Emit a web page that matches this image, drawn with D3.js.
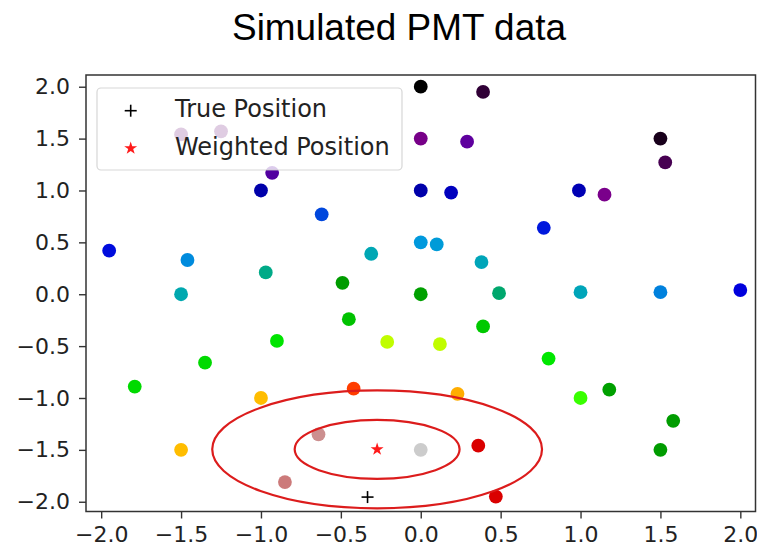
<!DOCTYPE html>
<html>
<head>
<meta charset="utf-8">
<script src="https://cdn.jsdelivr.net/npm/d3@7"></script>
<style>
  body { margin: 0; background: #fff; }
  text { font-family: "DejaVu Sans", sans-serif; }
</style>
</head>
<body>
<svg id="chart" width="757" height="549"></svg>
<script>
// PMT centres (x, y) and the normalised signal each one recorded
const pmtX = [0.00, 0.39, 0.00, 0.29, 1.50, 1.53, 0.00, 0.19, 0.99, 1.15,
              0.77, 0.00, 0.10, 0.38, 0.00, 0.49, 1.00, 1.50, 2.00, -1.95,
              -1.46, -1.50, -0.97, -0.49, -0.31, -0.62, -1.00, -0.93, -1.50, -1.25,
              -0.45, -0.90, -0.21, -1.35, -1.79, -1.00, -0.42, -0.64, -1.50, -0.85,
              0.00, 0.39, 0.12, 0.80, 0.23, 1.00, 1.18, 1.58, 1.50, 0.36, 0.47];
const pmtY = [2.00, 1.95, 1.50, 1.47, 1.50, 1.27, 1.00, 0.98, 1.00, 0.96,
              0.64, 0.50, 0.48, 0.31, 0.00, 0.01, 0.02, 0.02, 0.04, 0.42,
              0.33, 0.00, 0.21, 0.11, 0.39, 0.77, 1.00, 1.17, 1.54, 1.57,
              -0.24, -0.45, -0.46, -0.66, -0.89, -1.00, -0.91, -1.35, -1.50, -1.81,
              -1.50, -0.31, -0.48, -0.62, -0.96, -1.00, -0.92, -1.22, -1.50, -1.46, -1.95];
const pmtSignal = [0.00, 0.02, 0.05, 0.115, 0.01, 0.03, 0.15, 0.17, 0.16, 0.06,
                   0.21, 0.30, 0.305, 0.335, 0.46, 0.41, 0.335, 0.265, 0.20, 0.205,
                   0.28, 0.345, 0.40, 0.455, 0.34, 0.23, 0.15, 0.12, 0.04, 0.04,
                   0.51, 0.56, 0.655, 0.545, 0.545, 0.765, 0.83, 0.985, 0.765, 0.98,
                   1.00, 0.52, 0.655, 0.565, 0.78, 0.615, 0.46, 0.455, 0.455, 0.91, 0.91];

const truePos = [-0.333, -1.955];
const weightedPos = [-0.273, -1.495];
const weightedSigma = [0.516, 0.284];
const sigmaLevels = [1, 2];

const tickValues = [-2.0, -1.5, -1.0, -0.5, 0.0, 0.5, 1.0, 1.5, 2.0];
const titleText = "Simulated PMT data";
const legendLabels = ["True Position", "Weighted Position"];

// nipy_spectral colour stops
const cmapStops = [0.00, 0.05, 0.10, 0.15, 0.20, 0.25, 0.30, 0.35, 0.40, 0.45, 0.50,
                   0.55, 0.60, 0.65, 0.70, 0.75, 0.80, 0.85, 0.90, 0.95, 1.00];
const cmapColors = ["#000000", "#770088", "#880099", "#0000aa", "#0000dd", "#0077dd",
                    "#0099dd", "#00aaaa", "#00aa88", "#009900", "#00bb00", "#00dd00",
                    "#00ff00", "#bbff00", "#eeee00", "#ffcc00", "#ff9900", "#ff0000",
                    "#dd0000", "#cc0000", "#cccccc"];

const svg = d3.select("#chart");
const plot = { left: 86, right: 755.5, top: 75, bottom: 511.5 };

const x = d3.scaleLinear().domain([-2.095, 2.095]).range([plot.left, plot.right]);
const y = d3.scaleLinear().domain([-2.094, 2.113]).range([plot.bottom, plot.top]);
const color = d3.scaleLinear().domain(cmapStops).range(cmapColors).interpolate(d3.interpolateRgb);
const fmt = d3.format(".1f");

// title
svg.append("text")
  .attr("x", 399).attr("y", 39.5)
  .attr("text-anchor", "middle")
  .style("font-family", "'Liberation Sans', Arial, sans-serif")
  .style("font-size", "37px")
  .attr("textLength", 334)
  .attr("lengthAdjust", "spacingAndGlyphs")
  .attr("fill", "#000")
  .text(titleText);

// PMT hits
const pts = d3.range(pmtX.length);
svg.append("g").selectAll("circle").data(pts).join("circle")
  .attr("cx", i => x(pmtX[i]))
  .attr("cy", i => y(pmtY[i]))
  .attr("r", 6.9)
  .attr("fill", i => color(pmtSignal[i]));

// true position marker
const tp = svg.append("g").attr("transform", `translate(${x(truePos[0])},${y(truePos[1])})`);
tp.append("line").attr("x1", -6).attr("x2", 6).attr("stroke", "#000").attr("stroke-width", 1.6);
tp.append("line").attr("y1", -6).attr("y2", 6).attr("stroke", "#000").attr("stroke-width", 1.6);

// weighted position and its sigma ellipses
svg.append("path")
  .attr("transform", `translate(${x(weightedPos[0])},${y(weightedPos[1])})`)
  .attr("d", d3.symbol(d3.symbolStar, 52)())
  .attr("fill", "#ff1a1a");

svg.append("g").selectAll("ellipse").data(sigmaLevels).join("ellipse")
  .attr("cx", x(weightedPos[0]))
  .attr("cy", y(weightedPos[1]))
  .attr("rx", k => x(weightedPos[0] + k * weightedSigma[0]) - x(weightedPos[0]))
  .attr("ry", k => y(weightedPos[1]) - y(weightedPos[1] + k * weightedSigma[1]))
  .attr("fill", "none")
  .attr("stroke", "#dc1c1c")
  .attr("stroke-width", 2.2);

// axes
const xAxis = svg.append("g")
  .attr("transform", `translate(0,${plot.bottom})`)
  .call(d3.axisBottom(x).tickValues(tickValues).tickFormat(fmt).tickSize(7).tickPadding(8));
const yAxis = svg.append("g")
  .attr("transform", `translate(${plot.left},0)`)
  .call(d3.axisLeft(y).tickValues(tickValues).tickFormat(fmt).tickSize(7).tickPadding(9));
[xAxis, yAxis].forEach(a => {
  a.select(".domain").remove();
  a.selectAll(".tick line").attr("stroke", "#333").attr("stroke-width", 1.4);
  a.selectAll(".tick text").attr("fill", "#222")
    .style("font-family", "'DejaVu Sans', sans-serif").style("font-size", "22px");
});

// frame
svg.append("rect")
  .attr("x", plot.left).attr("y", plot.top)
  .attr("width", plot.right - plot.left).attr("height", plot.bottom - plot.top)
  .attr("fill", "none").attr("stroke", "#333").attr("stroke-width", 1.5);

// legend
const lg = svg.append("g");
lg.append("rect")
  .attr("x", 97).attr("y", 88).attr("width", 305).attr("height", 82)
  .attr("rx", 4)
  .attr("fill", "#fff").attr("fill-opacity", 0.8)
  .attr("stroke", "#ccc").attr("stroke-opacity", 0.8).attr("stroke-width", 1.2);

const lgPlus = lg.append("g").attr("transform", "translate(130.7,110.7)");
lgPlus.append("line").attr("x1", -6).attr("x2", 6).attr("stroke", "#000").attr("stroke-width", 1.6);
lgPlus.append("line").attr("y1", -6).attr("y2", 6).attr("stroke", "#000").attr("stroke-width", 1.6);

lg.append("path")
  .attr("transform", "translate(130.7,148.3)")
  .attr("d", d3.symbol(d3.symbolStar, 52)())
  .attr("fill", "#ff1a1a");

lg.selectAll("text.lbl").data(legendLabels).join("text")
  .attr("class", "lbl")
  .attr("x", 175)
  .attr("y", (d, i) => [116.7, 155][i])
  .style("font-size", "24px")
  .attr("fill", "#222")
  .text(d => d);
</script>
</body>
</html>
